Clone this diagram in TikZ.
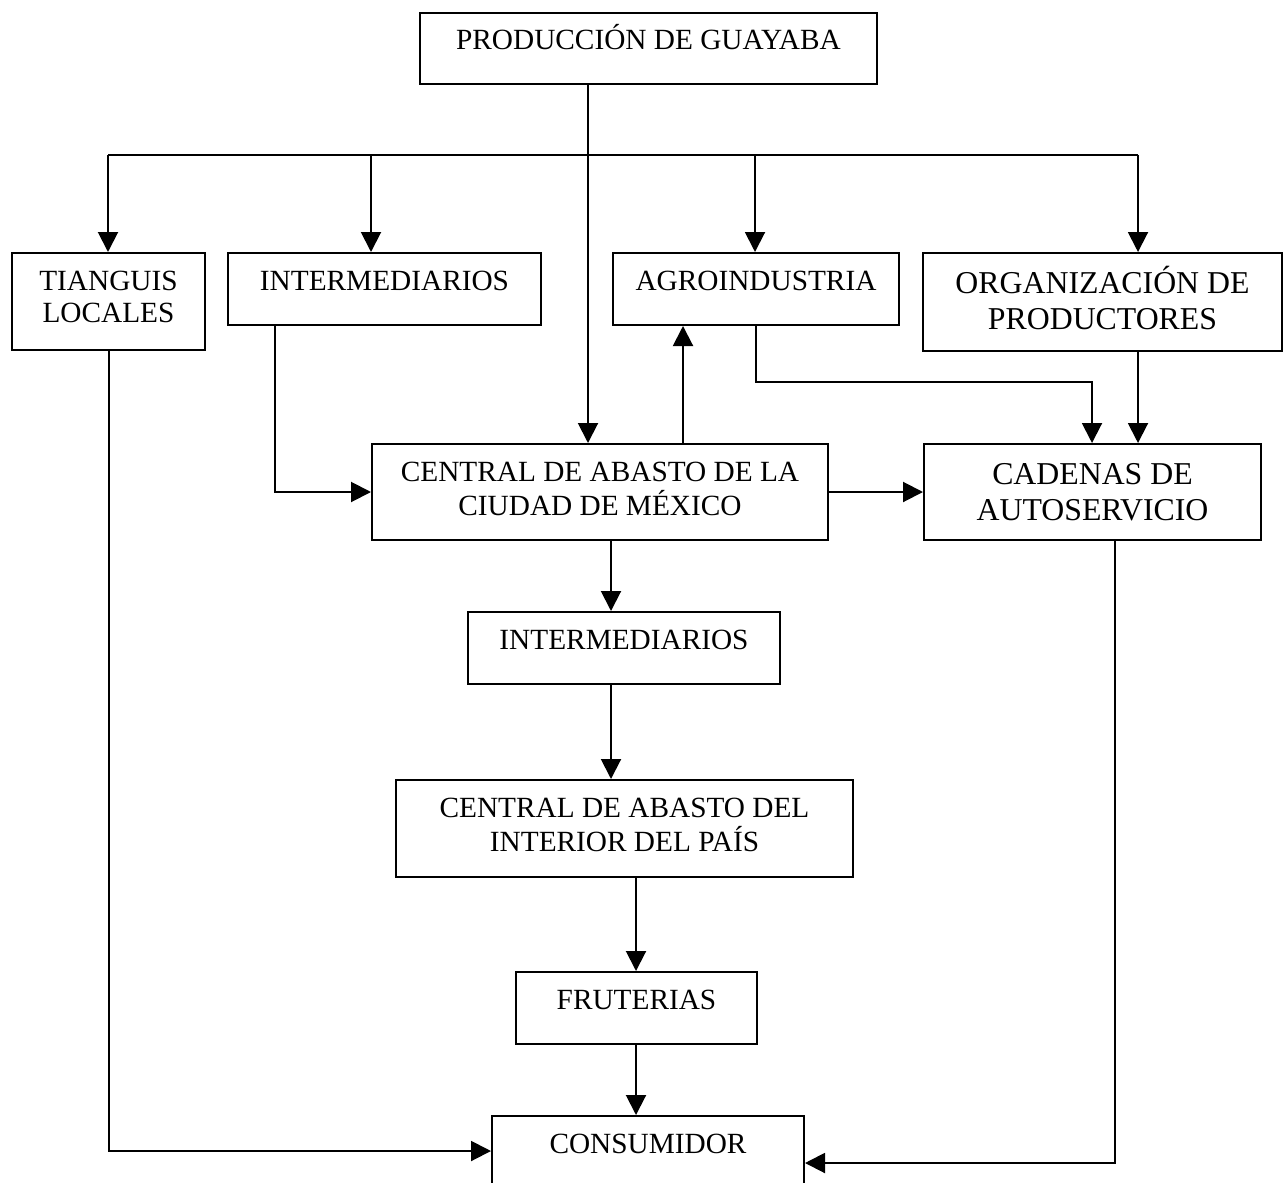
\documentclass[tikz,border=0pt]{standalone}
\usepackage{fontspec}
\setmainfont{Liberation Serif}
\usetikzlibrary{arrows.meta}
\newcommand{\twol}[2]{\begin{tabular}[t]{@{}c@{}}#1\\#2\end{tabular}}
\begin{document}
\begin{tikzpicture}[x=0.5pt,y=-0.5pt,
  box/.style={draw, line width=1pt, inner sep=0pt, anchor=north west,
    font=\fontsize{14.65pt}{16.35pt}\selectfont, text height=18.5pt},
  bigbox/.style={box, font=\fontsize{15.9pt}{18pt}\selectfont, text height=20pt},
  arr/.style={line width=1pt, -{Triangle[length=10pt,width=10pt]}},
  ln/.style={line width=1pt}]
\path[fill=white] (0,0) rectangle (1283,1182);
\useasboundingbox (0,0) rectangle (1283,1182);

\node[box, minimum width=228.5pt, text depth=17pt] (prod) at (419,12) {PRODUCCIÓN DE GUAYABA};
\node[box, minimum width=96.5pt, text depth=30pt] (tiang) at (11,252) {\twol{TIANGUIS}{LOCALES}};
\node[box, minimum width=156.5pt, text depth=17.5pt] (int1) at (227,252) {INTERMEDIARIOS};
\node[box, minimum width=143pt, text depth=17.5pt] (agro) at (612,252) {AGROINDUSTRIA};
\node[bigbox, minimum width=179.5pt, text depth=29pt] (org) at (922,252) {\twol{ORGANIZACIÓN DE}{PRODUCTORES}};
\node[box, minimum width=228pt, text depth=29.5pt] (cam) at (371,443) {\twol{CENTRAL DE ABASTO DE LA}{CIUDAD DE MÉXICO}};
\node[bigbox, minimum width=168.5pt, text depth=28pt] (cad) at (923,443) {\twol{CADENAS DE}{AUTOSERVICIO}};
\node[box, minimum width=156pt, text depth=17.5pt] (int2) at (467,611) {INTERMEDIARIOS};
\node[box, minimum width=228.5pt, text depth=30pt] (cai) at (395,779) {\twol{CENTRAL DE ABASTO DEL}{INTERIOR DEL PAÍS}};
\node[box, minimum width=120.5pt, text depth=17.5pt] (fru) at (515,971) {FRUTERIAS};
\node[box, minimum width=156pt, text depth=19pt] (cons) at (491,1115) {CONSUMIDOR};

% bend / trunk coordinates
\coordinate (xP) at (588,0);
\coordinate (busL) at (108,155);
\coordinate (busI) at (371,155);
\coordinate (busA) at (755,155);
\coordinate (busR) at (1138,155);
\coordinate (xUp) at (683,0);
\coordinate (bendA) at (1092,382);
\coordinate (xI) at (275,0);
\coordinate (xM) at (611,0);
\coordinate (xF) at (636,0);
\coordinate (yL) at (0,1151);
\coordinate (xC) at (1115,0);
\coordinate (yR) at (0,1163);

\draw[arr] (prod.south -| xP) -- (cam.north -| xP);
\draw[ln] (busL) -- (busR);
\draw[arr] (busL) -- (tiang.north -| busL);
\draw[arr] (busI) -- (int1.north -| busI);
\draw[arr] (busA) -- (agro.north -| busA);
\draw[arr] (busR) -- (org.north -| busR);
\draw[arr] (cam.north -| xUp) -- (agro.south -| xUp);
\draw[arr] (agro.south) |- (bendA) -- (cad.north -| bendA);
\draw[arr] (org.south -| busR) -- (cad.north -| busR);
\draw[arr] (int1.south -| xI) |- (cam.west);
\draw[arr] (cam.east) -- (cad.west);
\draw[arr] (cam.south -| xM) -- (int2.north -| xM);
\draw[arr] (int2.south -| xM) -- (cai.north -| xM);
\draw[arr] (cai.south -| xF) -- (fru.north -| xF);
\draw[arr] (fru.south -| xF) -- (cons.north -| xF);
\draw[arr] (tiang.south) |- (cons.west |- yL);
\draw[arr] (cad.south -| xC) |- (cons.east |- yR);
\end{tikzpicture}
\end{document}
